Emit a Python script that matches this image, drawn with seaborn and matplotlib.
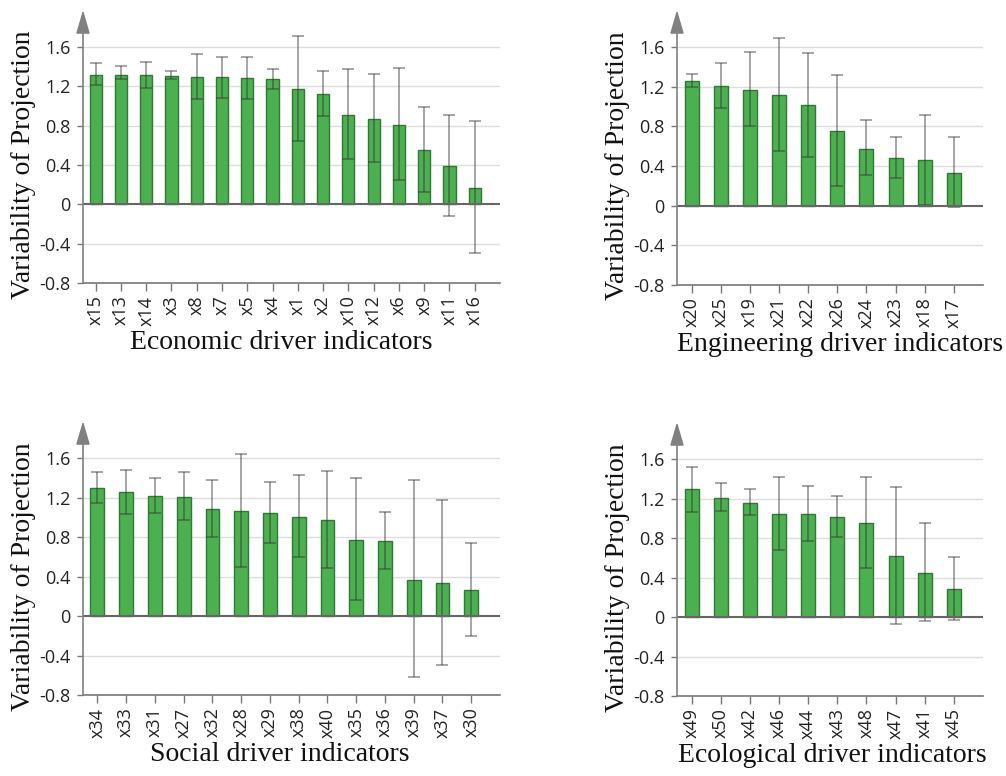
import numpy as np
import pandas as pd
import matplotlib
matplotlib.use("Agg")
import matplotlib.pyplot as plt
import seaborn as sns

# ---------------- data ----------------
eco_cats = ["x15", "x13", "x14", "x3", "x8", "x7", "x5", "x4", "x1", "x2", "x10", "x12", "x6", "x9", "x11", "x16"]
eco_vals = [1.32, 1.315, 1.31, 1.30, 1.295, 1.29, 1.28, 1.27, 1.17, 1.12, 0.91, 0.87, 0.81, 0.556, 0.386, 0.166]
eco_hi = [1.44, 1.41, 1.45, 1.36, 1.53, 1.50, 1.50, 1.38, 1.71, 1.36, 1.38, 1.325, 1.39, 0.993, 0.905, 0.844]
eco_lo = [1.21, 1.27, 1.18, 1.27, 1.07, 1.08, 1.07, 1.17, 0.645, 0.90, 0.46, 0.43, 0.245, 0.13, -0.12, -0.50]

eng_cats = ["x20", "x25", "x19", "x21", "x22", "x26", "x24", "x23", "x18", "x17"]
eng_vals = [1.256, 1.208, 1.171, 1.114, 1.013, 0.753, 0.577, 0.483, 0.459, 0.327]
eng_hi = [1.327, 1.438, 1.549, 1.691, 1.539, 1.323, 0.861, 0.695, 0.918, 0.689]
eng_lo = [1.195, 0.986, 0.81, 0.55, 0.496, 0.199, 0.307, 0.28, 0.01, -0.017]

soc_cats = ["x34", "x33", "x31", "x27", "x32", "x28", "x29", "x38", "x40", "x35", "x36", "x39", "x37", "x30"]
soc_vals = [1.299, 1.255, 1.218, 1.208, 1.086, 1.062, 1.042, 1.008, 0.978, 0.775, 0.758, 0.369, 0.335, 0.267]
soc_hi = [1.461, 1.482, 1.40, 1.455, 1.38, 1.64, 1.357, 1.424, 1.472, 1.397, 1.049, 1.377, 1.177, 0.741]
soc_lo = [1.143, 1.032, 1.042, 0.974, 0.80, 0.50, 0.737, 0.60, 0.49, 0.166, 0.474, -0.622, -0.497, -0.203]

ecol_cats = ["x49", "x50", "x42", "x46", "x44", "x43", "x48", "x47", "x41", "x45"]
ecol_vals = [1.295, 1.21, 1.159, 1.044, 1.041, 1.017, 0.956, 0.62, 0.447, 0.281]
ecol_hi = [1.525, 1.353, 1.298, 1.42, 1.329, 1.231, 1.42, 1.315, 0.956, 0.607]
ecol_lo = [1.068, 1.075, 1.037, 0.681, 0.766, 0.807, 0.495, -0.068, -0.04, -0.027]

panels = [
    ("Economic driver indicators", eco_cats, eco_vals, eco_lo, eco_hi),
    ("Engineering driver indicators", eng_cats, eng_vals, eng_lo, eng_hi),
    ("Social driver indicators", soc_cats, soc_vals, soc_lo, soc_hi),
    ("Ecological driver indicators", ecol_cats, ecol_vals, ecol_lo, ecol_hi),
]

yticks = [-0.8, -0.4, 0, 0.4, 0.8, 1.2, 1.6]
ytick_labels = ["-0.8", "-0.4", "0", "0.4", "0.8", "1.2", "1.6"]

# ---------------- style ----------------
sns.set_theme(style="white")
plt.rcParams["font.family"] = ["Open Sans", "DejaVu Sans"]

W, H = 1006, 776
fig = plt.figure(figsize=(W / 100, H / 100), dpi=100)

# axes rectangles in pixel coords: left, right, bottom(-0.8), top, xlabel centre x, ylabel centre y
rects = [
    (83, 500, 283, 10, 281, 165),
    (677, 983, 285, 10, 840, 166),
    (83, 500, 695, 421, 280, 577),
    (677, 983, 696, 422, 832, 578),
]

serif = ["Liberation Serif", "DejaVu Serif"]
bar_color = "#4caf50"
edge_color = "#2f7a33"

for (label, cats, vals, lo, hi), (l, r, b, t, xc, yc) in zip(panels, rects):
    ax = fig.add_axes([l / W, 1 - b / H, (r - l) / W, (b - t) / H])
    df = pd.DataFrame({"cat": cats, "val": vals})
    sns.barplot(data=df, x="cat", y="val", ax=ax, color=bar_color,
                width=0.48, edgecolor=edge_color, linewidth=1.0,
                saturation=1, errorbar=None, zorder=3)
    n = len(cats)
    x = np.arange(n)
    v = np.array(vals)
    yerr = np.vstack([v - np.array(lo), np.array(hi) - v])
    ax.errorbar(x, v, yerr=yerr, fmt="none", ecolor="#333333", alpha=0.55,
                elinewidth=1.1, capsize=4, capthick=1.1, zorder=4)

    ax.set_ylim(-0.8, 1.976)
    ax.set_xlim(-0.5, n - 1 + 1.0)

    ax.set_yticks(yticks)
    ax.set_yticklabels(ytick_labels)
    for yv in [-0.4, 0.4, 0.8, 1.2, 1.6]:
        ax.axhline(yv, color="#dddddd", lw=1.0, zorder=0)
    ax.axhline(0, color="#666666", lw=1.5, zorder=5)

    for s in ["top", "right", "left"]:
        ax.spines[s].set_visible(False)
    ax.spines["bottom"].set_color("#777777")
    ax.spines["bottom"].set_linewidth(1.2)
    ax.annotate("", xy=(0, 1.0), xytext=(0, 0), xycoords="axes fraction",
                arrowprops=dict(arrowstyle="-|>,head_length=1.2,head_width=0.35",
                                color="#808080", lw=1.2, shrinkA=0, shrinkB=0),
                annotation_clip=False, zorder=6)

    ax.tick_params(axis="y", which="both", left=True, length=4, width=1.0,
                   color="#777777", labelsize=13, labelcolor="#222222", pad=5)
    ax.tick_params(axis="x", which="both", bottom=True, length=6, width=1.0,
                   color="#777777", labelsize=13, labelcolor="#222222",
                   labelrotation=90, pad=3)

    ax.set_ylabel("Variability of Projection", family=serif, fontsize=20,
                  color="#111111")
    ax.set_xlabel(label, family=serif, fontsize=20, color="#111111")
    ax.yaxis.set_label_coords(-47 / (r - l), (b - yc) / (b - t))
    ax.xaxis.set_label_coords((xc - l) / (r - l), -47 / (b - t))
    ax.set_facecolor("white")

fig.savefig("out.png", dpi=100, facecolor="white")
